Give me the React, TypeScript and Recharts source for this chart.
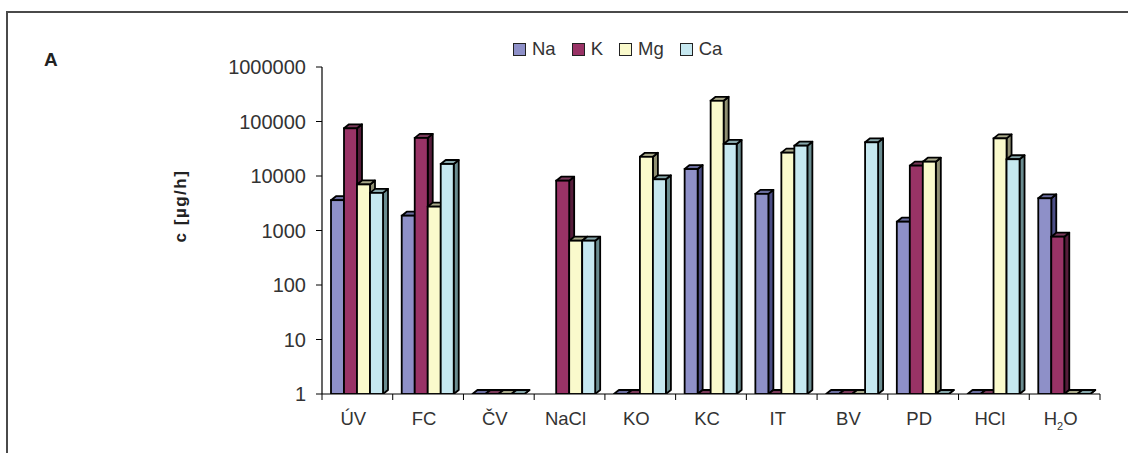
import React from 'react';
import { BarChart, Bar, XAxis, YAxis, Legend } from 'recharts';

const categories = ['ÚV', 'FC', 'ČV', 'NaCl', 'KO', 'KC', 'IT', 'BV', 'PD', 'HCl', 'H2O'];
const na = [3600, 1870, 1, null, 1, 13400, 4700, 1, 1450, 1, 3900];
const k = [75000, 50000, 1, 8200, 1, 1, 1, 1, 15500, 1, 770];
const mg = [7000, 2740, 1, 650, 22500, 240000, 26800, 1, 18300, 49000, 1];
const ca = [4900, 16600, 1, 650, 8700, 38700, 36000, 41500, 1, 20300, 1];
const yTicks = [1, 10, 100, 1000, 10000, 100000, 1000000];

const SERIES = [
  { key: 'Na', name: 'Na', front: '#8e90c8', side: '#4b4d85', top: '#6a6d9e' },
  { key: 'K', name: 'K', front: '#993366', side: '#561c3a', top: '#7a3a5a' },
  { key: 'Mg', name: 'Mg', front: '#fafacc', side: '#8f8f72', top: '#a9a98a' },
  { key: 'Ca', name: 'Ca', front: '#c6e8f0', side: '#6a8c90', top: '#86a6aa' },
];

const data = categories.map((c, i) => ({
  cat: c,
  Na: na[i],
  K: k[i],
  Mg: mg[i],
  Ca: ca[i],
}));

const FONT = "'Liberation Sans', Arial, sans-serif";
const DX = 5;
const DY = 4;

const Box3D = (props: any) => {
  const { x, y, width, height, s } = props;
  if (x == null || y == null || isNaN(x) || isNaN(y)) return null;
  const w = width;
  const h = Math.max(0, height || 0);
  const sw = 1.8;
  const topPts = `${x},${y} ${x + DX},${y - DY} ${x + w + DX},${y - DY} ${x + w},${y}`;
  const sidePts = `${x + w},${y} ${x + w + DX},${y - DY} ${x + w + DX},${y + h - DY} ${x + w},${y + h}`;
  return (
    <g>
      <polygon points={sidePts} fill={s.side} stroke="#000" strokeWidth={sw} strokeLinejoin="round" />
      <polygon points={topPts} fill={s.top} stroke="#000" strokeWidth={sw} strokeLinejoin="round" />
      {h > 0 && <rect x={x} y={y} width={w} height={h} fill={s.front} stroke="#000" strokeWidth={sw} />}
    </g>
  );
};

const XTick = (props: any) => {
  const { x, y, payload, index } = props;
  const n = categories.length;
  const off = payload && typeof payload.offset === 'number' && payload.offset > 0 ? payload.offset : 0;
  const label: string = payload.value;
  const m = label.match(/^([A-Za-z]+)(\d)([A-Za-z]+)$/);
  return (
    <g>
      <line x1={x - off} y1={y} x2={x - off} y2={y + 6} stroke="#000" strokeWidth={1} />
      {index === n - 1 && <line x1={x + off} y1={y} x2={x + off} y2={y + 6} stroke="#000" strokeWidth={1} />}
      <text x={x - 4} y={y + 31} textAnchor="middle" fill="#333" fontSize={18.5} fontFamily={FONT}>
        {m ? (
          <>
            <tspan>{m[1]}</tspan>
            <tspan fontSize={11} dy={5}>{m[2]}</tspan>
            <tspan dy={-5}>{m[3]}</tspan>
          </>
        ) : (
          label
        )}
      </text>
    </g>
  );
};

const LegendContent = () => (
  <div style={{ display: 'flex', alignItems: 'center', fontFamily: FONT, fontSize: 18.5, color: '#333' }}>
    {SERIES.map((s, i) => (
      <div key={s.key} style={{ display: 'flex', alignItems: 'center', marginRight: i < SERIES.length - 1 ? 16 : 0 }}>
        <div style={{ width: 11, height: 11, background: s.front, border: '1px solid #222', marginRight: 6 }} />
        <span>{s.name}</span>
      </div>
    ))}
  </div>
);

export default function App() {
  return (
    <div style={{ position: 'fixed', left: 0, top: 0, width: 1128, height: 453, background: '#fff', overflow: 'hidden' }}>
      <div
        style={{
          position: 'absolute',
          left: 6,
          top: 11,
          width: 1200,
          height: 500,
          borderTop: '2px solid #4a4a4a',
          borderLeft: '2px solid #4a4a4a',
        }}
      />
      <div
        style={{
          position: 'absolute',
          left: 44,
          top: 49,
          fontFamily: FONT,
          fontWeight: 'bold',
          fontSize: 19,
          color: '#222',
          lineHeight: '22px',
        }}
      >
        A
      </div>
      <div
        style={{
          position: 'absolute',
          left: 181,
          top: 206,
          transform: 'translate(-50%, -50%) rotate(-90deg)',
          fontFamily: FONT,
          fontWeight: 'bold',
          fontSize: 17,
          letterSpacing: 1.5,
          color: '#222',
          whiteSpace: 'nowrap',
        }}
      >
        c [µg/h]
      </div>
      <div style={{ position: 'absolute', left: 0, top: 0 }}>
        <BarChart
          width={1128}
          height={453}
          data={data}
          margin={{ top: 67, right: 28, bottom: 29, left: 262 }}
          barGap={0}
          barSize={13}
        >
          <XAxis
            dataKey="cat"
            height={30}
            tickLine={false}
            tickSize={0}
            tickMargin={0}
            axisLine={{ stroke: '#000', strokeWidth: 1.2 }}
            tick={<XTick />}
            interval={0}
          />
          <YAxis
            scale="log"
            domain={[1, 1000000]}
            ticks={yTicks}
            allowDataOverflow
            width={60}
            tickSize={6}
            tickMargin={10}
            interval={0}
            tickLine={{ stroke: '#000' }}
            axisLine={{ stroke: '#000', strokeWidth: 1.2 }}
            tick={{ fill: '#333', fontSize: 20, fontFamily: FONT }}
          />
          <Legend
            verticalAlign="middle"
            align="center"
            layout="horizontal"
            content={<LegendContent />}
            wrapperStyle={{ position: 'absolute', top: 38, left: 513, width: 'auto' }}
          />
          {SERIES.map((s) => (
            <Bar
              key={s.key}
              dataKey={s.key}
              name={s.name}
              fill={s.front}
              isAnimationActive={false}
              shape={(p: any) => <Box3D {...p} s={s} />}
            />
          ))}
        </BarChart>
      </div>
    </div>
  );
}
